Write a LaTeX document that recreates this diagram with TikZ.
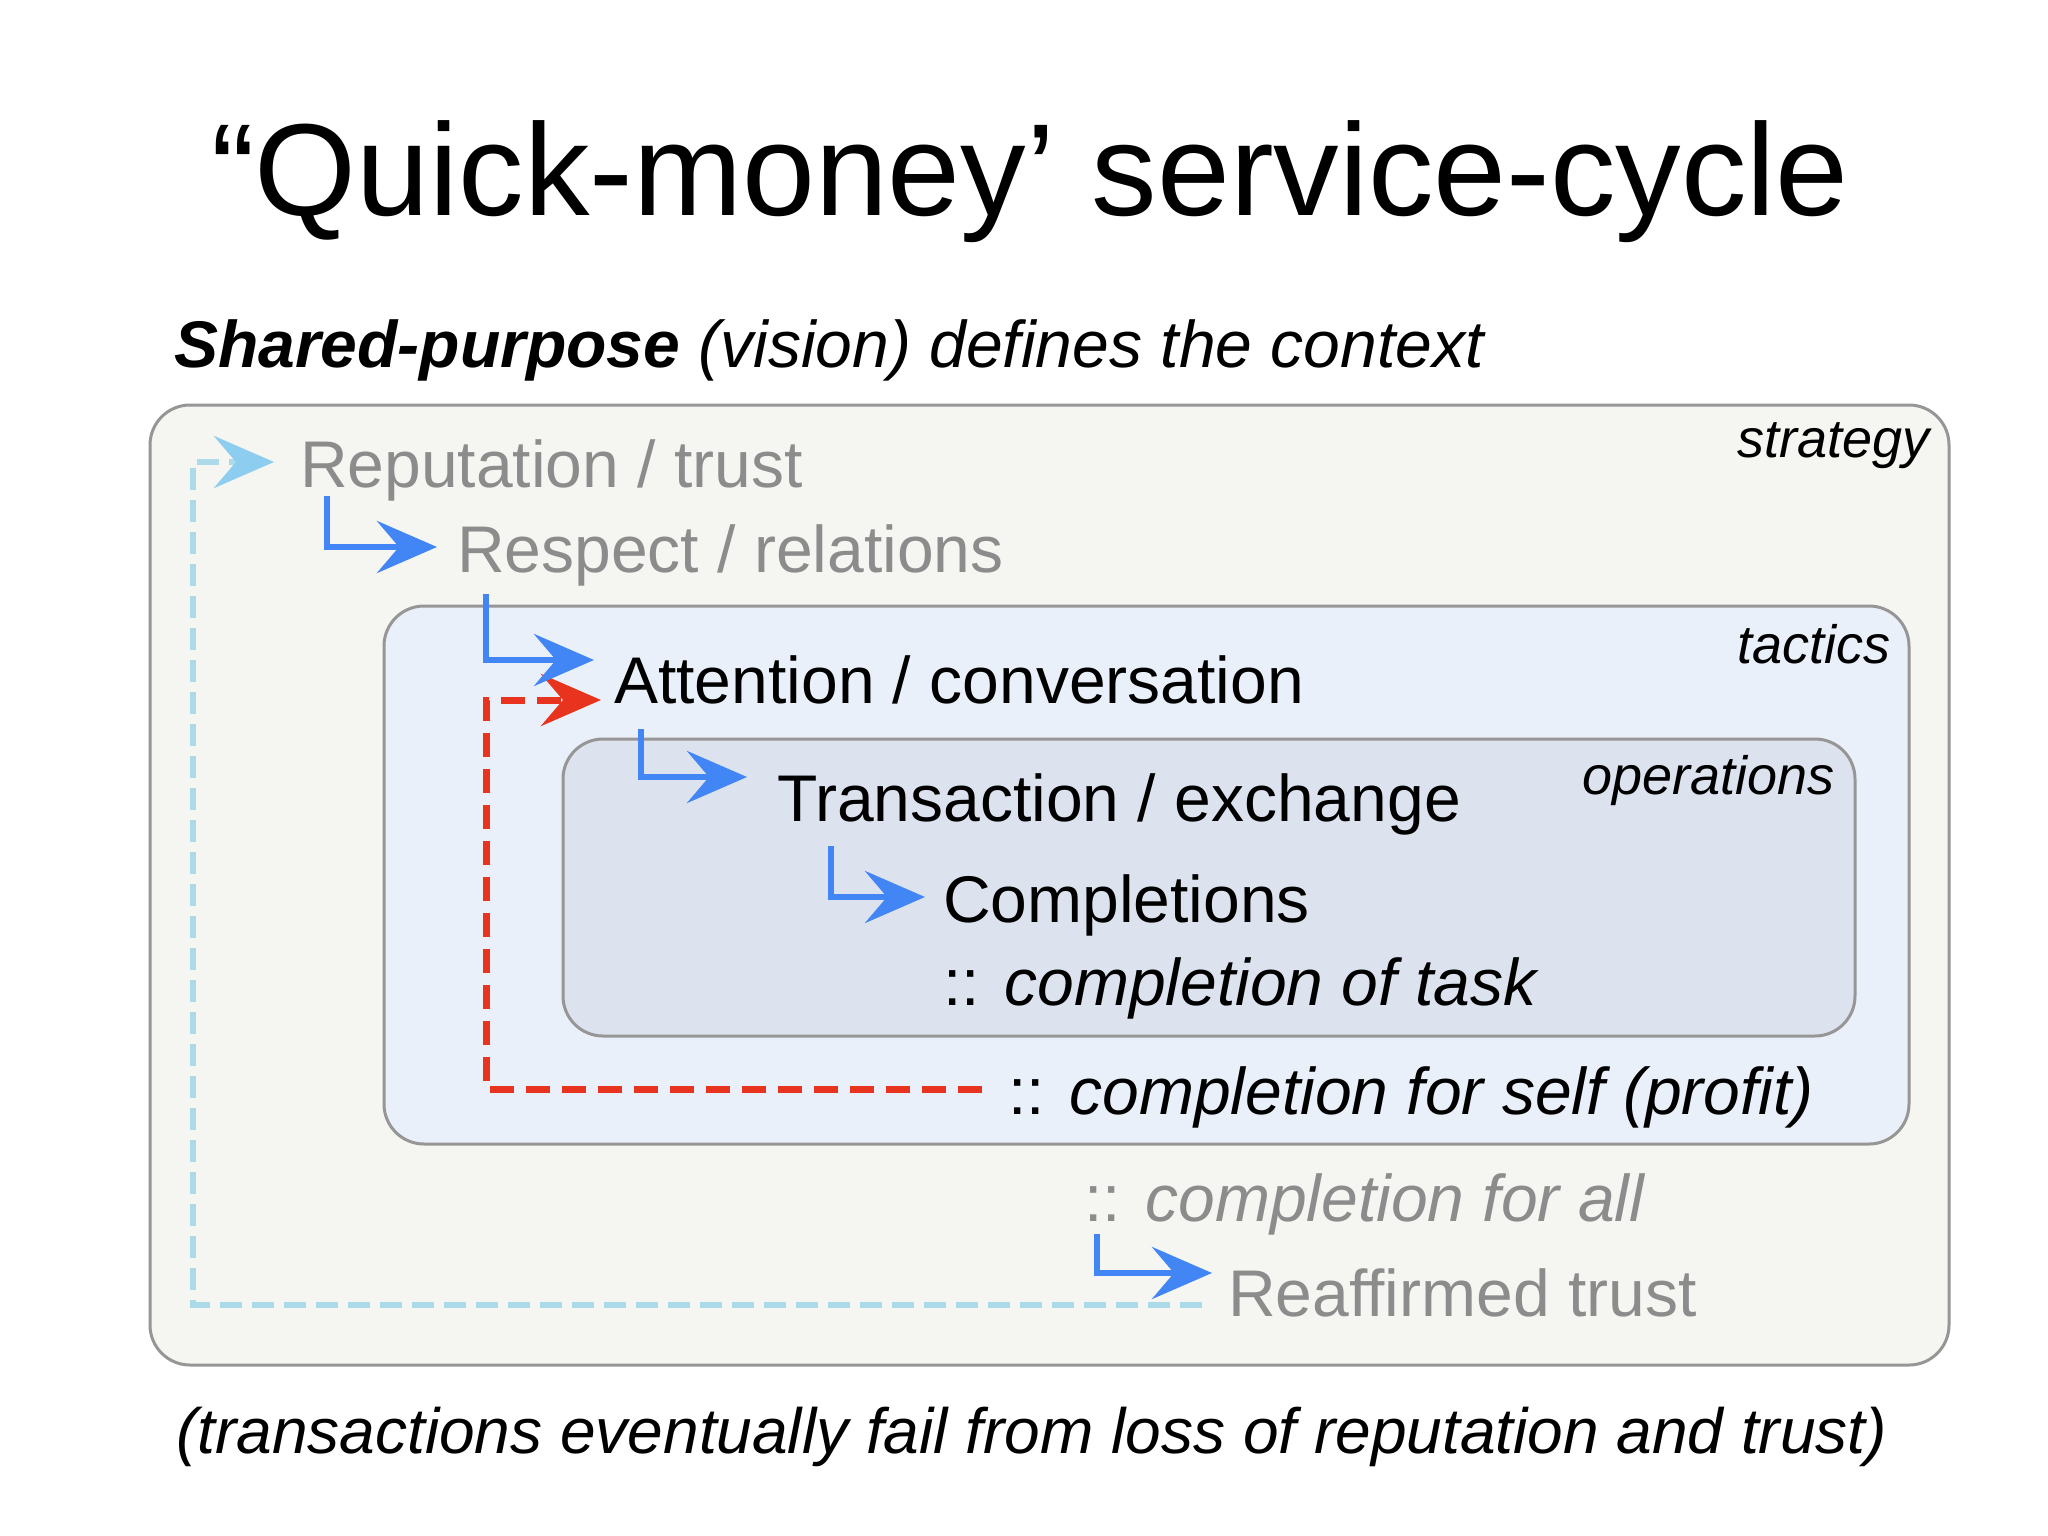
\documentclass[tikz,border=0pt]{standalone}
\usepackage{fontspec}
\setmainfont{Liberation Sans}
\usetikzlibrary{arrows.meta,calc}
\definecolor{flow}{RGB}{66,133,244}
\definecolor{loopline}{RGB}{172,218,232}
\definecolor{loophead}{RGB}{140,205,240}
\definecolor{selfline}{RGB}{232,52,30}
\definecolor{dimtext}{RGB}{140,140,140}
\definecolor{edge}{RGB}{150,150,150}
\definecolor{stratfill}{RGB}{245,245,241}
\definecolor{tactfill}{RGB}{234,240,249}
\definecolor{operfill}{RGB}{220,227,238}

\begin{document}
\begin{tikzpicture}[x=1pt,y=-1pt,
    txt/.style={anchor=base west,inner sep=0pt,text height=50pt,text depth=0pt,font=\fontsize{66}{72}\selectfont},
    dim/.style={txt,text=dimtext},
    tag/.style={anchor=base east,inner sep=0pt,font=\fontsize{54}{60}\selectfont\itshape},
    layer/.style={draw=edge,line width=3pt,rounded corners=40pt},
    flowarrow/.style={draw=flow,line width=6.5pt,-{Stealth[length=60pt,width=52pt,inset=22pt]}},
    selfarrow/.style={draw=selfline,line width=7pt,dash pattern=on 24pt off 12pt,-{Stealth[length=60pt,width=52pt,inset=22pt]}},
    looparrow/.style={draw=loopline,line width=6pt,dash pattern=on 22pt off 10pt,-{Stealth[length=60pt,width=52pt,inset=22pt,color=loophead]}}]
    \useasboundingbox[fill=white] (0,0) rectangle (2048,1536);

    \node[anchor=base,inner sep=0pt,font=\fontsize{131}{140}\selectfont] (title) at (1030,215) {“Quick-money’ service-cycle};
    \node[anchor=base west,inner sep=0pt,font=\fontsize{66}{72}\selectfont\itshape] (sub) at (174,367) {\textbf{Shared-purpose} (vision) defines the context};

    \draw[layer,fill=stratfill] (150,405) rectangle (1949,1365);
    \draw[layer,fill=tactfill] (384,606) rectangle (1909,1144);
    \draw[layer,fill=operfill] (563,739) rectangle (1855,1036);

    \node[tag] (strat) at (1930,457) {strategy};
    \node[tag] (tact) at (1891,663) {tactics};
    \node[tag] (oper) at (1835,794) {operations};

    \node[dim] (rep) at (300,487) {Reputation / trust};
    \node[dim] (resp) at (457,572) {Respect / relations};
    \node[txt] (att) at (614,703) {Attention / conversation};
    \node[txt] (trans) at (777,821) {Transaction / exchange};
    \node[txt] (compl) at (943,922) {Completions};
    \node[txt] (task) at (943,1005) {:: \textit{completion of task}};
    \node[txt] (self) at (1008,1114) {:: \textit{completion for self (profit)}};
    \node[dim] (all) at (1084,1221) {:: \textit{completion for all}};
    \node[dim] (reaff) at (1228,1316) {Reaffirmed trust};

    \coordinate (back) at (193,1305);
    \coordinate (up) at (486,1089);

    \draw[looparrow,shorten >=26pt] ($(reaff.west)+(-26,14)$) -- (back) |- (rep.west);
    \draw[selfarrow,shorten >=13pt] ($(self.west)+(-26,0)$) -- (up) |- ($(att.west)+(0,22)$);

    \draw[flowarrow,shorten >=20pt] ($(rep.south west)+(27,9)$) |- (resp.west);
    \draw[flowarrow,shorten >=20pt] ($(resp.south west)+(29,22)$) |- ($(att.west)+(0,-18)$);
    \draw[flowarrow,shorten >=30pt] ($(att.south west)+(27,26)$) |- ($(trans.west)+(0,-19)$);
    \draw[flowarrow,shorten >=18pt] ($(trans.south west)+(54,25)$) |- (compl.west);
    \draw[flowarrow,shorten >=16pt] ($(all.south west)+(13,13)$) |- ($(reaff.west)+(0,-18)$);

    \node[anchor=base west,inner sep=0pt,font=\fontsize{64}{70}\selectfont\itshape] (note) at (176,1453) {(transactions eventually fail from loss of reputation and trust)};
\end{tikzpicture}
\end{document}
